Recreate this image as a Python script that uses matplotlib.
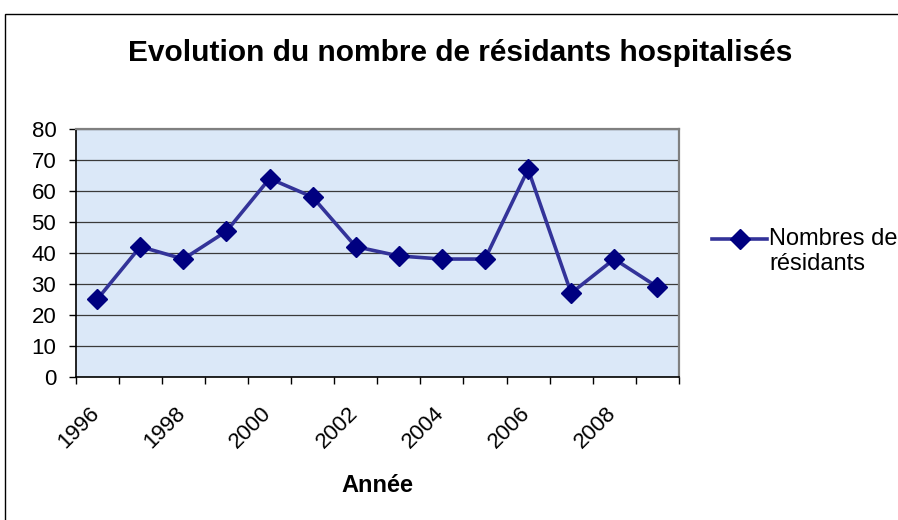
import matplotlib.pyplot as plt
import matplotlib.transforms as mtransforms
from matplotlib.patches import Rectangle

plt.rcParams['font.family'] = ['Liberation Sans', 'DejaVu Sans']

# data
years = [1996, 1997, 1998, 1999, 2000, 2001, 2002, 2003,
         2004, 2005, 2006, 2007, 2008, 2009]
residents = [25, 42, 38, 47, 64, 58, 42, 39, 38, 38, 67, 27, 38, 29]
tick_years = [1996, 1998, 2000, 2002, 2004, 2006, 2008]

fig = plt.figure(figsize=(8.98, 5.2), dpi=100)
fig.patch.set_facecolor('white')

# outer chart border (right and bottom edges fall outside the picture)
fig.patches.append(Rectangle((5 / 898, -0.1), 1.2, 1 - 14 / 520 + 0.1,
                             transform=fig.transFigure, fill=False,
                             edgecolor='black', linewidth=1.0))

ax = fig.add_axes([0.0843, 0.2756, 0.6717, 0.4763])
ax.set_facecolor('#dbe8f8')

x = list(range(len(years)))
ax.plot(x, residents, color='#333399', linewidth=2.6, marker='D',
        markersize=10.5, markerfacecolor='#000080', markeredgecolor='#000080',
        label='Nombres de\nrésidants', zorder=3)

ax.set_xlim(-0.5, len(years) - 0.5)
ax.set_ylim(0, 80)
ax.set_yticks(range(0, 81, 10))
ax.tick_params(axis='y', labelsize=16, direction='out', length=5, width=1,
               pad=9, colors='black')
ax.yaxis.grid(True, color='#3a3a3a', linewidth=0.9)
ax.set_axisbelow(True)

# labels a little left of each category centre, ticks on the boundaries
ax.set_xticks([years.index(y) - 0.2 for y in tick_years])
ax.set_xticklabels([str(y) for y in tick_years], rotation=45, ha='right',
                   va='top', rotation_mode='anchor', fontsize=16)
ax.tick_params(axis='x', which='major', length=0, pad=19)
ax.set_xticks([i - 0.5 for i in range(len(years) + 1)], minor=True)
ax.tick_params(axis='x', which='minor', direction='out', length=5, width=1)

for side in ['left', 'bottom']:
    ax.spines[side].set_color('black')
    ax.spines[side].set_linewidth(1.2)
for side in ['top', 'right']:
    ax.spines[side].set_color('#808080')
    ax.spines[side].set_linewidth(1.6)

ax.set_xlabel('Année', fontsize=17, fontweight='bold')
ax.xaxis.set_label_coords(0.5, -(492 - 376.7) / 247.7)
ax.xaxis.label.set_va('baseline')

fig.text(0.512, 1 - 61 / 520, 'Evolution du nombre de résidants hospitalisés',
         ha='center', va='baseline', fontsize=21.5, fontweight='bold')

leg = ax.legend(loc='upper left', bbox_to_anchor=(1.04, 0.64), frameon=False,
                fontsize=17, handlelength=2.3, handletextpad=0.1,
                borderaxespad=0)
# Excel puts the legend key level with the first text line
for line in leg.get_lines():
    line.set_transform(line.get_transform() +
                       mtransforms.ScaledTranslation(0, 9 / 72,
                                                     fig.dpi_scale_trans))

fig.savefig('out.png', dpi=100)
